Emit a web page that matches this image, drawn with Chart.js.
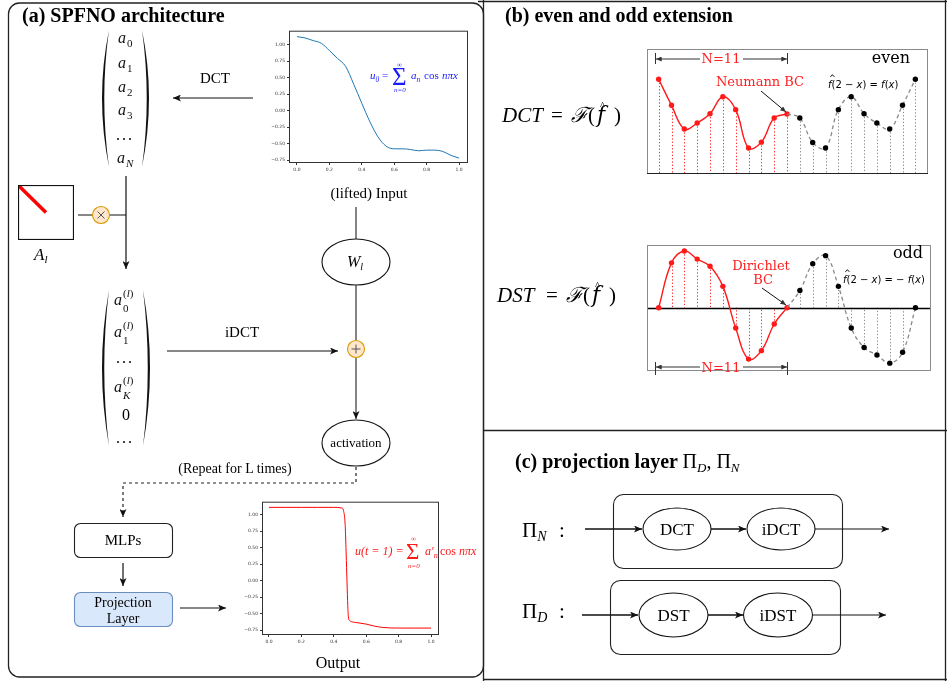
<!DOCTYPE html>
<html>
<head>
<meta charset="utf-8">
<script src="https://cdn.jsdelivr.net/npm/chart.js@4.4.1/dist/chart.umd.min.js"></script>
<style>
  html, body { margin: 0; padding: 0; background: #fff; }
  #page { position: relative; width: 947px; height: 681px; overflow: hidden; }
  canvas.plot { position: absolute; }
  #ann { position: absolute; left: 0; top: 0; }
  .r { font-family: "Liberation Serif", serif; }
  .m { font-family: "Liberation Serif", serif; font-style: italic; }
  .b { font-family: "Liberation Serif", serif; font-weight: bold; }
  .dv { font-family: "DejaVu Serif", serif; }
  .ds { font-family: "DejaVu Sans", sans-serif; }
</style>
</head>
<body>
<div id="page">
  <canvas id="inputChart" class="plot" width="215" height="149" style="left:259px;top:26px"></canvas>
  <canvas id="outputChart" class="plot" width="213" height="150" style="left:232px;top:497px"></canvas>
  <canvas id="evenChart" class="plot" width="289" height="133" style="left:643px;top:45px"></canvas>
  <canvas id="oddChart" class="plot" width="292" height="134" style="left:643px;top:241px"></canvas>
  <canvas id="matChart" class="plot" width="56" height="55" style="left:18px;top:185px"></canvas>

  <svg id="ann" width="947" height="681">
    <defs>
      <marker id="ah" viewBox="0 0 8 7" refX="8" refY="3.5" markerWidth="8" markerHeight="7" markerUnits="userSpaceOnUse" orient="auto">
        <path d="M0,0 L8,3.5 L0,7 L2,3.5 z" fill="#111"/>
      </marker>
      <marker id="ahs" viewBox="0 0 8 7" refX="8" refY="3.5" markerWidth="6" markerHeight="5" markerUnits="userSpaceOnUse" orient="auto">
        <path d="M0,0 L8,3.5 L0,7 z" fill="#333"/>
      </marker>
    </defs>

    <!-- panel frames -->
    <rect x="8.5" y="3" width="475" height="674" rx="11" fill="none" stroke="#222" stroke-width="1.3"/>
    <line x1="478" y1="1.5" x2="947" y2="1.5" stroke="#222" stroke-width="1.3"/>
    <line x1="483.5" y1="0" x2="483.5" y2="681" stroke="#222" stroke-width="1.3"/>
    <line x1="483" y1="430.5" x2="947" y2="430.5" stroke="#222" stroke-width="1.3"/>
    <line x1="945.5" y1="0" x2="945.5" y2="681" stroke="#222" stroke-width="1.3"/>
    <line x1="483" y1="679.5" x2="947" y2="679.5" stroke="#222" stroke-width="1.3"/>

    <!-- (a) -->
    <text class="b" x="22" y="22" font-size="20">(a) SPFNO architecture</text>

    <!-- first coefficient vector -->
    <path d="M109 30 Q95 98 109 167 Q99.5 98 109 30 Z" fill="#111"/>
    <path d="M142 30 Q156 98 142 167 Q151.5 98 142 30 Z" fill="#111"/>
    <g class="m" font-size="16" fill="#111">
      <text x="118" y="43">a</text>
      <text x="118" y="68">a</text>
      <text x="118" y="92">a</text>
      <text x="118" y="115">a</text>
      <text x="117" y="163">a</text>
    </g>
    <g class="r" font-size="11" fill="#111">
      <text x="127" y="47">0</text>
      <text x="127" y="72">1</text>
      <text x="127" y="96">2</text>
      <text x="127" y="119">3</text>
      <text x="126" y="167" class="m">N</text>
    </g>
    <text class="r" x="125" y="140" font-size="16" text-anchor="middle" letter-spacing="2">...</text>

    <!-- DCT arrow -->
    <text class="r" x="215" y="83" font-size="15" text-anchor="middle">DCT</text>
    <line x1="253" y1="98" x2="173" y2="98" stroke="#111" stroke-width="1.2" marker-end="url(#ah)"/>

    <!-- spectral multiply -->
    <line x1="126" y1="176" x2="126" y2="269" stroke="#111" stroke-width="1.2" marker-end="url(#ah)"/>
    <line x1="78" y1="215" x2="126" y2="215" stroke="#111" stroke-width="1.2"/>
    <circle cx="101" cy="215" r="8.5" fill="#ffe6cc" stroke="#d79b00" stroke-width="1.1"/>
    <line x1="97.5" y1="211.5" x2="104.5" y2="218.5" stroke="#555" stroke-width="1"/>
    <line x1="104.5" y1="211.5" x2="97.5" y2="218.5" stroke="#555" stroke-width="1"/>
    <text class="m" x="34" y="260" font-size="17">A<tspan font-size="11" dy="3">l</tspan></text>

    <!-- second coefficient vector -->
    <path d="M109 290 Q95 368 109 446 Q99.5 368 109 290 Z" fill="#111"/>
    <path d="M143 290 Q157 368 143 446 Q152.5 368 143 290 Z" fill="#111"/>
    <g class="m" font-size="16" fill="#111">
      <text x="114" y="305">a</text>
      <text x="114" y="337">a</text>
      <text x="114" y="392">a</text>
    </g>
    <g class="r" font-size="11" fill="#111">
      <text x="123" y="297">(<tspan class="m">l</tspan>)</text>
      <text x="123" y="312">0</text>
      <text x="123" y="329">(<tspan class="m">l</tspan>)</text>
      <text x="123" y="344">1</text>
      <text x="123" y="384">(<tspan class="m">l</tspan>)</text>
      <text x="123" y="399" class="m">K</text>
    </g>
    <text class="r" x="125" y="363" font-size="16" text-anchor="middle" letter-spacing="2">...</text>
    <text class="r" x="126" y="420" font-size="16" text-anchor="middle">0</text>
    <text class="r" x="125" y="443" font-size="16" text-anchor="middle" letter-spacing="2">...</text>

    <!-- iDCT -->
    <text class="r" x="242" y="337" font-size="15" text-anchor="middle">iDCT</text>
    <line x1="167" y1="351" x2="338" y2="351" stroke="#111" stroke-width="1.2" marker-end="url(#ah)"/>

    <!-- right column -->
    <text class="r" x="369" y="198" font-size="15" text-anchor="middle">(lifted) Input</text>
    <line x1="356" y1="207" x2="356" y2="239" stroke="#333" stroke-width="1.2"/>
    <ellipse cx="356" cy="262" rx="34" ry="23" fill="#fff" stroke="#111" stroke-width="1.1"/>
    <text class="m" x="347" y="267" font-size="16">W<tspan font-size="10" dy="3">l</tspan></text>
    <line x1="356" y1="285" x2="356" y2="340" stroke="#333" stroke-width="1.2"/>
    <circle cx="356" cy="349" r="8.5" fill="#ffe6cc" stroke="#d79b00" stroke-width="1.1"/>
    <line x1="351.5" y1="349" x2="360.5" y2="349" stroke="#555" stroke-width="1"/>
    <line x1="356" y1="344.5" x2="356" y2="353.5" stroke="#555" stroke-width="1"/>
    <line x1="356" y1="358" x2="356" y2="419" stroke="#333" stroke-width="1.2" marker-end="url(#ah)"/>
    <ellipse cx="356" cy="443" rx="34" ry="23" fill="#fff" stroke="#111" stroke-width="1.1"/>
    <text class="r" x="356" y="447" font-size="13" text-anchor="middle">activation</text>

    <!-- repeat loop -->
    <text class="r" x="235" y="473" font-size="14" text-anchor="middle">(Repeat for L times)</text>
    <polyline points="356,467 356,483 123,483 123,517" fill="none" stroke="#222" stroke-width="1.2" stroke-dasharray="3,3" marker-end="url(#ah)"/>

    <rect x="74.5" y="523.5" width="98" height="34" rx="6" fill="#fff" stroke="#222" stroke-width="1.1"/>
    <text class="r" x="123" y="545" font-size="15" text-anchor="middle">MLPs</text>
    <line x1="123" y1="563" x2="123" y2="586" stroke="#111" stroke-width="1.2" marker-end="url(#ah)"/>
    <rect x="74.5" y="592.5" width="98" height="34" rx="6" fill="#dae8fc" stroke="#6c8ebf" stroke-width="1.1"/>
    <text class="r" x="123" y="607" font-size="14" text-anchor="middle">Projection</text>
    <text class="r" x="123" y="623" font-size="14" text-anchor="middle">Layer</text>
    <line x1="180" y1="608" x2="226" y2="608" stroke="#111" stroke-width="1.2" marker-end="url(#ah)"/>
    <text class="r" x="338" y="668" font-size="16" text-anchor="middle">Output</text>

    <!-- formula on input plot -->
    <g fill="#1a1aff">
      <text class="m" x="370" y="79" font-size="11">u<tspan class="r" font-size="7.5" dy="3">0</tspan></text>
      <text class="r" x="382" y="79" font-size="11">=</text>
      <text class="r" x="392" y="85" font-size="25">Σ</text>
      <text class="r" x="397" y="67" font-size="7">∞</text>
      <text class="m" x="394" y="92" font-size="7">n<tspan class="r">=0</tspan></text>
      <text class="m" x="411" y="79" font-size="11">a<tspan font-size="7.5" dy="3">n</tspan></text>
      <text class="r" x="424" y="79" font-size="11">cos</text>
      <text class="m" x="442" y="79" font-size="11">nπx</text>
    </g>

    <!-- formula on output plot -->
    <g fill="#ff1a1a">
      <text class="m" x="355" y="555" font-size="12">u<tspan class="r">(</tspan>t<tspan class="r"> = 1) =</tspan></text>
      <text class="r" x="406" y="559" font-size="23">Σ</text>
      <text class="r" x="411" y="541" font-size="7">∞</text>
      <text class="m" x="408" y="568" font-size="7">n<tspan class="r">=0</tspan></text>
      <text class="m" x="425" y="555" font-size="12">a′<tspan font-size="8" dy="3">n</tspan></text>
      <text class="r" x="440" y="555" font-size="12">cos</text>
      <text class="m" x="459" y="555" font-size="12">nπx</text>
    </g>

    <!-- (b) -->
    <text class="b" x="505" y="22" font-size="20">(b) even and odd extension</text>
    <g font-size="21">
      <text class="m" x="502" y="122">DCT</text>
      <text class="r" x="551" y="122">=</text>
      <text class="m" x="571" y="122" font-family="DejaVu Serif">ℱ</text>
      <text class="r" x="588" y="122">(</text>
      <text class="dv" x="597" y="122" font-style="italic" font-size="22">f</text>
      <text class="r" x="600" y="109" font-size="11">^</text>
      <text class="r" x="614" y="122">)</text>

      <text class="m" x="497" y="302">DST</text>
      <text class="r" x="546" y="302">=</text>
      <text class="m" x="566" y="302" font-family="DejaVu Serif">ℱ</text>
      <text class="r" x="583" y="302">(</text>
      <text class="dv" x="592" y="302" font-style="italic" font-size="22">f</text>
      <text class="r" x="595" y="289" font-size="11">^</text>
      <text class="r" x="609" y="302">)</text>
    </g>

    <!-- even annotations -->
    <g stroke="#333" stroke-width="1">
      <line x1="655.5" y1="53" x2="655.5" y2="64"/>
      <line x1="787.5" y1="53" x2="787.5" y2="64"/>
      <line x1="700" y1="59" x2="656" y2="59" marker-end="url(#ahs)"/>
      <line x1="743" y1="59" x2="787" y2="59" marker-end="url(#ahs)"/>
    </g>
    <text class="dv" x="721" y="63" font-size="13" fill="#ff2020" text-anchor="middle">N=11</text>
    <text class="dv" x="891" y="63" font-size="16" text-anchor="middle">even</text>
    <text class="dv" x="760" y="86" font-size="13" fill="#ff2020" text-anchor="middle">Neumann BC</text>
    <line x1="761" y1="91" x2="786" y2="112" stroke="#111" stroke-width="1" marker-end="url(#ahs)"/>
    <text class="ds" x="828" y="88" font-size="10"><tspan font-style="italic">f</tspan>(2 − <tspan font-style="italic">x</tspan>) = <tspan font-style="italic">f</tspan>(<tspan font-style="italic">x</tspan>)</text>
    <text class="ds" x="829" y="81" font-size="8">^</text>

    <!-- odd annotations -->
    <text class="dv" x="908" y="258" font-size="16" text-anchor="middle">odd</text>
    <text class="dv" x="761" y="270" font-size="13" fill="#ff2020" text-anchor="middle">Dirichlet</text>
    <text class="dv" x="763" y="284" font-size="13" fill="#ff2020" text-anchor="middle">BC</text>
    <line x1="762" y1="288" x2="786" y2="305" stroke="#111" stroke-width="1" marker-end="url(#ahs)"/>
    <text class="ds" x="843" y="283" font-size="10"><tspan font-style="italic">f</tspan>(2 − <tspan font-style="italic">x</tspan>) = − <tspan font-style="italic">f</tspan>(<tspan font-style="italic">x</tspan>)</text>
    <text class="ds" x="844" y="276" font-size="8">^</text>
    <g stroke="#333" stroke-width="1">
      <line x1="655.5" y1="362" x2="655.5" y2="375"/>
      <line x1="787.5" y1="362" x2="787.5" y2="375"/>
      <line x1="700" y1="367" x2="656" y2="367" marker-end="url(#ahs)"/>
      <line x1="743" y1="367" x2="787" y2="367" marker-end="url(#ahs)"/>
    </g>
    <text class="dv" x="721" y="372" font-size="13" fill="#ff2020" text-anchor="middle">N=11</text>

    <!-- (c) -->
    <text class="b" x="515" y="468" font-size="20">(c) projection layer <tspan class="r" font-weight="normal">Π</tspan><tspan class="m" font-weight="normal" font-size="13" dy="4">D</tspan><tspan class="r" font-weight="normal" dy="-4">, Π</tspan><tspan class="m" font-weight="normal" font-size="13" dy="4">N</tspan></text>

    <text class="r" x="522" y="537" font-size="21">Π<tspan class="m" font-size="14" dy="4">N</tspan></text>
    <text class="r" x="559" y="537" font-size="21">:</text>
    <rect x="613.5" y="494.5" width="229" height="74" rx="10" fill="none" stroke="#222" stroke-width="1.1"/>
    <line x1="585" y1="529" x2="642" y2="529" stroke="#111" stroke-width="1.3" marker-end="url(#ah)"/>
    <ellipse cx="677" cy="529" rx="34" ry="21" fill="#fff" stroke="#111" stroke-width="1.1"/>
    <text class="r" x="677" y="535" font-size="17" text-anchor="middle">DCT</text>
    <line x1="711" y1="529" x2="746" y2="529" stroke="#111" stroke-width="1.3" marker-end="url(#ah)"/>
    <ellipse cx="781" cy="529" rx="34" ry="21" fill="#fff" stroke="#111" stroke-width="1.1"/>
    <text class="r" x="781" y="535" font-size="17" text-anchor="middle">iDCT</text>
    <line x1="815" y1="529" x2="889" y2="529" stroke="#111" stroke-width="1.1" marker-end="url(#ah)"/>

    <text class="r" x="522" y="618" font-size="21">Π<tspan class="m" font-size="14" dy="4">D</tspan></text>
    <text class="r" x="559" y="618" font-size="21">:</text>
    <rect x="610.5" y="580.5" width="230" height="74" rx="10" fill="none" stroke="#222" stroke-width="1.1"/>
    <line x1="582" y1="615" x2="638" y2="615" stroke="#111" stroke-width="1.3" marker-end="url(#ah)"/>
    <ellipse cx="673.5" cy="615" rx="34.5" ry="22" fill="#fff" stroke="#111" stroke-width="1.1"/>
    <text class="r" x="673.5" y="621" font-size="17" text-anchor="middle">DST</text>
    <line x1="708" y1="615" x2="743" y2="615" stroke="#111" stroke-width="1.3" marker-end="url(#ah)"/>
    <ellipse cx="778" cy="615" rx="34.5" ry="22" fill="#fff" stroke="#111" stroke-width="1.1"/>
    <text class="r" x="778" y="621" font-size="17" text-anchor="middle">iDST</text>
    <line x1="813" y1="615" x2="886" y2="615" stroke="#111" stroke-width="1.1" marker-end="url(#ah)"/>
  </svg>
</div>

<script>
// values
const inputX = [0, 0.05, 0.1, 0.15, 0.2, 0.25, 0.3, 0.35, 0.4, 0.45, 0.5, 0.55, 0.6, 0.65, 0.7, 0.75, 0.8, 0.85, 0.9, 0.95, 1.0];
const inputY = [1.12, 1.10, 1.06, 1.02, 0.91, 0.79, 0.67, 0.40, 0.11, -0.17, -0.40, -0.54, -0.58, -0.58, -0.59, -0.61, -0.60, -0.60, -0.62, -0.68, -0.72];

const outputX = [0, 0.1, 0.2, 0.3, 0.4, 0.45, 0.46, 0.47, 0.475, 0.48, 0.485, 0.49, 0.5, 0.52, 0.55, 0.6, 0.65, 0.7, 0.8, 0.9, 1.0];
const outputY = [1.11, 1.11, 1.11, 1.11, 1.11, 1.10, 1.06, 0.85, 0.50, 0.10, -0.30, -0.55, -0.61, -0.63, -0.64, -0.66, -0.69, -0.71, -0.72, -0.72, -0.72];

const xTicks = [0, 0.2, 0.4, 0.6, 0.8, 1.0];
const yTicks = [-0.75, -0.5, -0.25, 0, 0.25, 0.5, 0.75, 1.0];

// sample nodes of the extension sketches
const baseNodes = [0, 1, 2, 3, 4, 5, 6, 7, 8, 9, 10];
const extNodes = [10, 11, 12, 13, 14, 15, 16, 17, 18, 19, 20];
const evenBase = [3.03, 2.20, 1.44, 1.63, 1.93, 2.47, 2.06, 0.83, 1.02, 1.79, 1.92];
const evenExt = [1.92, 1.79, 1.01, 0.83, 2.06, 2.47, 1.93, 1.63, 1.44, 2.20, 3.03];
const oddBase = [0, 1.43, 1.81, 1.55, 1.32, 0.68, -0.65, -1.64, -1.37, -0.52, 0];
const oddExt = [0, 0.55, 1.40, 1.66, 0.68, -0.65, -1.27, -1.51, -1.77, -1.42, 0];

// kept modes on the diagonal of A_l
const diagModes = [0, 1, 2, 3, 4, 5, 6, 7, 8, 9, 10];

const pts = (xs, ys) => xs.map((x, i) => ({ x: x, y: ys[i] }));

// box round the plot area
const framePlugin = {
  id: "frame",
  afterDatasetsDraw(chart, args, o) {
    if (!o || !o.color) return;
    const { left, top, right, bottom } = chart.chartArea;
    const ctx = chart.ctx;
    ctx.save();
    ctx.lineWidth = o.width || 1;
    ctx.strokeStyle = o.color;
    ctx.strokeRect(left + 0.5, top + 0.5, right - left - 1, bottom - top - 1);
    if (o.bottomColor) {
      ctx.strokeStyle = o.bottomColor;
      ctx.beginPath();
      ctx.moveTo(left, bottom - 0.5);
      ctx.lineTo(right, bottom - 0.5);
      ctx.stroke();
    }
    ctx.restore();
  },
};

// dotted drop lines from each sample to the base value
const stemPlugin = {
  id: "stems",
  beforeDatasetsDraw(chart, args, o) {
    if (!o || o.base === undefined) return;
    const ctx = chart.ctx;
    const y0 = chart.scales.y.getPixelForValue(o.base);
    chart.data.datasets.forEach((ds, i) => {
      if (!ds.stemColor) return;
      chart.getDatasetMeta(i).data.forEach((pt, j) => {
        if (ds.stemSkipFirst && j === 0) return;
        ctx.save();
        ctx.strokeStyle = ds.stemColor;
        ctx.lineWidth = 1;
        ctx.setLineDash([1.3, 2]);
        ctx.beginPath();
        ctx.moveTo(Math.round(pt.x) + 0.5, pt.y);
        ctx.lineTo(Math.round(pt.x) + 0.5, y0);
        ctx.stroke();
        ctx.restore();
      });
    });
    if (o.zeroColor) {
      ctx.save();
      ctx.strokeStyle = o.zeroColor;
      ctx.lineWidth = 1.4;
      ctx.beginPath();
      ctx.moveTo(chart.chartArea.left, Math.round(y0) + 0.5);
      ctx.lineTo(chart.chartArea.right, Math.round(y0) + 0.5);
      ctx.stroke();
      ctx.restore();
    }
  },
};

function fmtMinus(s) {
  return s.replace("-", "\u2212");
}

function mplPlot(id, xs, ys, color, yMin, yMax, xMin, xMax) {
  const tickFont = { family: "DejaVu Sans", size: 4.5 };
  return new Chart(document.getElementById(id), {
    type: "line",
    data: {
      datasets: [
        {
          data: pts(xs, ys),
          borderColor: color,
          borderWidth: 1,
          pointRadius: 0,
          cubicInterpolationMode: "monotone",
        },
      ],
    },
    options: {
      responsive: false,
      animation: false,
      events: [],
      layout: { padding: { top: 4, right: 6, left: 0, bottom: 0 } },
      plugins: {
        legend: { display: false },
        tooltip: { enabled: false },
        frame: { color: "#333", width: 1 },
      },
      scales: {
        x: {
          type: "linear",
          min: xMin,
          max: xMax,
          afterBuildTicks: (s) => { s.ticks = xTicks.map((v) => ({ value: v })); },
          afterFit: (s) => { s.height = 12; },
          grid: { drawOnChartArea: false, drawTicks: true, tickLength: 2, color: "#333" },
          border: { display: false },
          ticks: { font: tickFont, color: "#333", padding: 2, maxRotation: 0, callback: (v) => v.toFixed(1) },
        },
        y: {
          min: yMin,
          max: yMax,
          afterBuildTicks: (s) => { s.ticks = yTicks.map((v) => ({ value: v })); },
          afterFit: (s) => { s.width = 30; },
          grid: { drawOnChartArea: false, drawTicks: true, tickLength: 2, color: "#333" },
          border: { display: false },
          ticks: { font: tickFont, color: "#333", padding: 2, callback: (v) => fmtMinus(v.toFixed(2)) },
        },
      },
    },
    plugins: [framePlugin],
  });
}

mplPlot("inputChart", inputX, inputY, "#1f77b4", -0.795, 1.21, -0.049, 1.055);
mplPlot("outputChart", outputX, outputY, "#ff0000", -0.825, 1.196, -0.043, 1.049);

function extensionPlot(id, base, ext, yMin, yMax, xMax, opts) {
  return new Chart(document.getElementById(id), {
    type: "line",
    data: {
      datasets: [
        {
          data: pts(extNodes, ext),
          borderColor: "#8a8a8a",
          borderWidth: 1.3,
          borderDash: [4, 3],
          tension: 0.4,
          pointRadius: extNodes.map((n, i) => (i === 0 ? 0 : 2.7)),
          pointBackgroundColor: "#000",
          pointBorderWidth: 0,
          stemColor: "#8a8a8a",
          stemSkipFirst: true,
        },
        {
          data: pts(baseNodes, base),
          borderColor: "#ff1a1a",
          borderWidth: 1.4,
          tension: 0.4,
          pointRadius: 2.7,
          pointBackgroundColor: "#ff1a1a",
          pointBorderWidth: 0,
          stemColor: "#ff2a2a",
        },
      ],
    },
    options: {
      responsive: false,
      animation: false,
      events: [],
      layout: { padding: 0 },
      plugins: {
        legend: { display: false },
        tooltip: { enabled: false },
        frame: opts.frame,
        stems: opts.stems,
      },
      scales: {
        x: { type: "linear", display: false, min: -0.909, max: xMax },
        y: { display: false, min: yMin, max: yMax },
      },
    },
    plugins: [stemPlugin, framePlugin],
  });
}

extensionPlot("evenChart", evenBase, evenExt, 0, 4.0, 20.985, {
  frame: { color: "#8a8a8a", width: 1, bottomColor: "#222" },
  stems: { base: 0 },
});
extensionPlot("oddChart", oddBase, oddExt, -2.02, 2.0, 21.21, {
  frame: { color: "#8a8a8a", width: 1 },
  stems: { base: 0, zeroColor: "#000" },
});

// the A_l weight matrix: only the leading diagonal block is non-zero
new Chart(document.getElementById("matChart"), {
  type: "line",
  data: {
    datasets: [
      {
        data: pts(diagModes, diagModes),
        borderColor: "#ff0000",
        borderWidth: 3.5,
        pointRadius: 0,
        borderCapStyle: "butt",
      },
    ],
  },
  options: {
    responsive: false,
    animation: false,
    events: [],
    layout: { padding: 0 },
    plugins: {
      legend: { display: false },
      tooltip: { enabled: false },
      frame: { color: "#111", width: 1.2 },
    },
    scales: {
      x: { type: "linear", display: false, min: 0, max: 20 },
      y: { display: false, min: 0, max: 20, reverse: true },
    },
  },
  plugins: [framePlugin],
});
</script>
</body>
</html>
